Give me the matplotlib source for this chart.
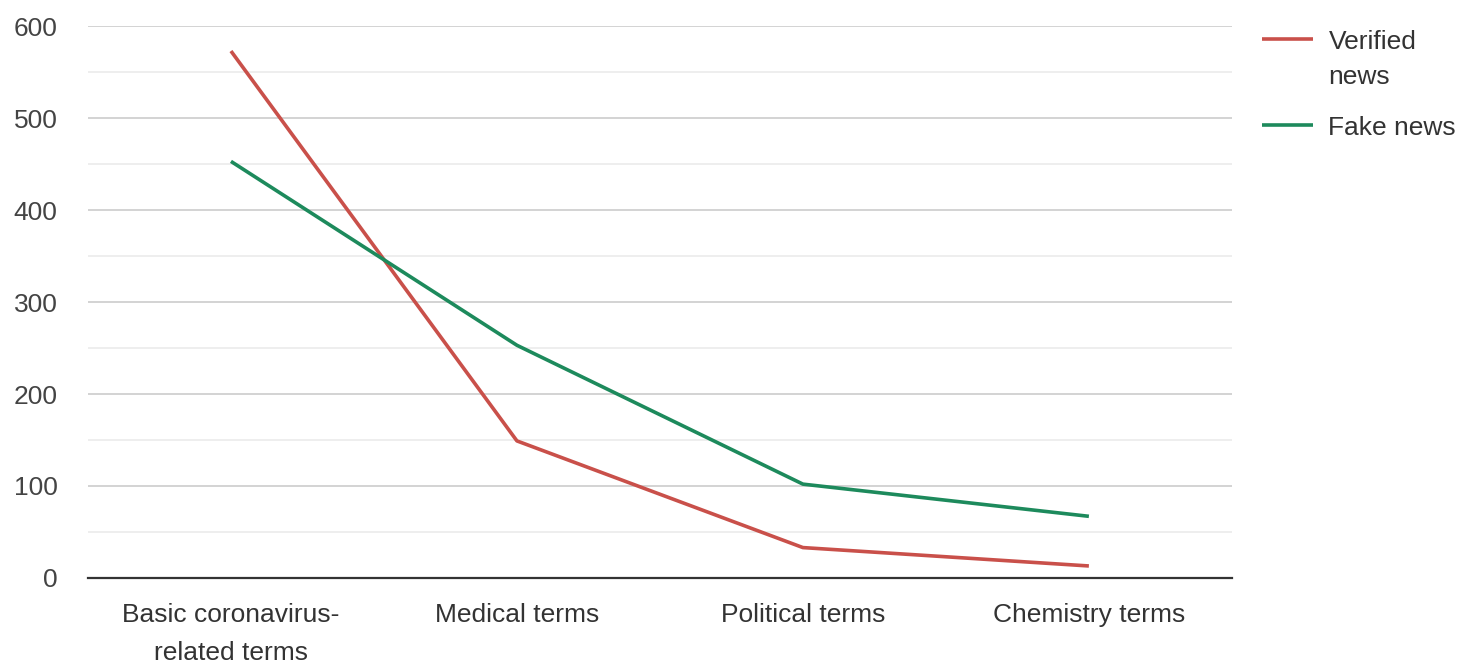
import matplotlib
matplotlib.use('Agg')
import matplotlib.pyplot as plt
import numpy as np

categories = ['Basic coronavirus-\nrelated terms', 'Medical terms', 'Political terms', 'Chemistry terms']
verified = [573, 149, 33, 13]
fake = [453, 253, 102, 67]

plt.rcParams['font.family'] = ['Liberation Sans', 'DejaVu Sans']

fig = plt.figure(figsize=(14.76, 6.72), dpi=100)
ax = fig.add_axes([0.0596, 0.140, 0.775, 0.821])

x = np.arange(len(categories))
ax.plot(x, verified, color='#c9504a', lw=2.6, label='Verified\nnews', solid_capstyle='butt')
ax.plot(x, fake, color='#1d8a5c', lw=2.6, label='Fake news', solid_capstyle='butt')

ax.set_xlim(-0.5, len(categories) - 0.5)
ax.set_ylim(0, 600)
ax.set_yticks(np.arange(0, 601, 100))
ax.set_yticks(np.arange(50, 600, 100), minor=True)
ax.grid(True, which='major', axis='y', color='#cccccc', lw=1.2)
ax.grid(True, which='minor', axis='y', color='#ebebeb', lw=1.2)
ax.set_axisbelow(True)
for s in ['top', 'right', 'left']:
    ax.spines[s].set_visible(False)
ax.spines['bottom'].set_color('#333333')
ax.spines['bottom'].set_linewidth(1.6)
ax.spines['bottom'].set_zorder(3)

ax.set_xticks(x)
ax.set_xticklabels(categories, fontsize=19, color='#333333')
for t in ax.get_xticklabels():
    t.set_linespacing(1.75)
ax.tick_params(axis='x', length=0, pad=18)
ax.tick_params(axis='y', which='both', length=0, pad=22, labelsize=19, labelcolor='#444444')

leg = ax.legend(loc='upper left', bbox_to_anchor=(1.006, 1.037), frameon=False,
                fontsize=19, handlelength=1.9, handletextpad=0.6, labelspacing=1.0,
                labelcolor='#333333')
for t in leg.get_texts():
    t.set_linespacing(1.62)
# handle next to the first line of a two-line label
for col in leg._legend_handle_box.get_children():
    for row in col.get_children():
        row.align = 'top'

fig.savefig('out.png', dpi=100)
